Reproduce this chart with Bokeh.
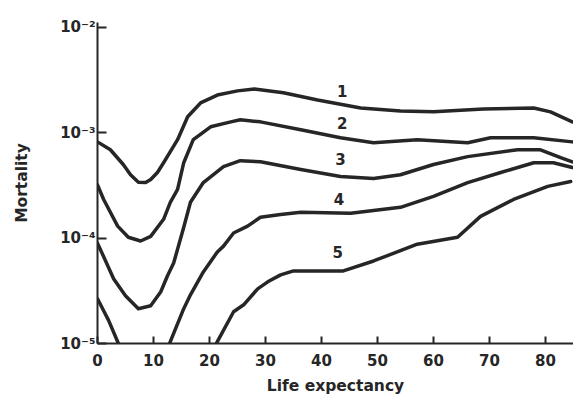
from bokeh.plotting import figure
from bokeh.models import Range1d, FixedTicker, CustomJSTickFormatter
from bokeh.core.properties import value
from bokeh.embed import file_html
from bokeh.resources import INLINE

# ---- data ----
x_ticks = [0, 10, 20, 30, 40, 50, 60, 70, 80]
y_ticks = [1e-5, 1e-4, 1e-3, 1e-2]
y_tick_labels = ["10⁻⁵", "10⁻⁴", "10⁻³", "10⁻²"]

curve1_x = [0, 2.3, 4.6, 5.9, 7.3, 8.6, 9.5, 10.7, 11.8, 14.3, 16.1, 18.4, 21.4, 25.0, 28.0, 33.2, 39.3, 47.0, 54.1, 60.0, 68.9, 77.9, 80.9, 84.8]
curve1_y = [8.2e-4, 6.9e-4, 5.0e-4, 4.0e-4, 3.4e-4, 3.37e-4, 3.6e-4, 4.2e-4, 5.2e-4, 8.6e-4, 1.42e-3, 1.92e-3, 2.28e-3, 2.5e-3, 2.6e-3, 2.4e-3, 2.05e-3, 1.72e-3, 1.61e-3, 1.58e-3, 1.68e-3, 1.72e-3, 1.58e-3, 1.27e-3]

curve2_x = [0, 1.1, 3.6, 5.5, 7.7, 9.5, 11.8, 13.0, 14.3, 15.4, 17.1, 20.2, 23.8, 25.5, 29.1, 36.3, 43.4, 49.3, 57.1, 66.1, 70.2, 77.9, 84.8]
curve2_y = [3.2e-4, 2.33e-4, 1.30e-4, 1.02e-4, 9.4e-5, 1.04e-4, 1.51e-4, 2.19e-4, 2.9e-4, 5.2e-4, 8.6e-4, 1.14e-3, 1.27e-3, 1.33e-3, 1.27e-3, 1.07e-3, 8.97e-4, 8.05e-4, 8.6e-4, 8.05e-4, 8.97e-4, 8.97e-4, 8.2e-4]

curve3_x = [0, 2.9, 5.0, 7.3, 9.5, 11.3, 12.5, 13.6, 15.4, 16.6, 18.9, 22.5, 25.5, 29.1, 36.3, 43.4, 49.3, 54.1, 60.0, 66.1, 75.0, 79.1, 82.7, 84.8]
curve3_y = [8.97e-5, 4.1e-5, 2.84e-5, 2.14e-5, 2.28e-5, 3.1e-5, 4.4e-5, 5.8e-5, 1.27e-4, 2.19e-4, 3.37e-4, 4.78e-4, 5.44e-4, 5.3e-4, 4.48e-4, 3.85e-4, 3.68e-4, 4.0e-4, 5.0e-4, 5.94e-4, 6.9e-4, 6.9e-4, 5.8e-4, 5.3e-4]

curve4a_x = [0, 2.0, 3.6, 4.3]
curve4a_y = [2.66e-5, 1.65e-5, 1.04e-5, 8.5e-6]
curve4b_x = [12.4, 13.0, 15.4, 16.6, 18.9, 21.4, 22.5, 24.3, 26.8, 29.1, 32.7, 36.3, 45.2, 54.1, 60.0, 66.1, 72.0, 77.9, 81.4, 84.8]
curve4b_y = [8.6e-6, 1.04e-5, 2.14e-5, 2.9e-5, 4.78e-5, 7.4e-5, 8.4e-5, 1.12e-4, 1.30e-4, 1.58e-4, 1.68e-4, 1.76e-4, 1.72e-4, 1.96e-4, 2.49e-4, 3.37e-4, 4.2e-4, 5.2e-4, 5.2e-4, 4.68e-4]

curve5_x = [20.5, 21.4, 24.3, 26.1, 28.6, 30.4, 32.7, 35.0, 39.3, 43.9, 49.3, 57.1, 64.3, 68.4, 74.3, 80.4, 84.5]
curve5_y = [8.6e-6, 1.04e-5, 2.0e-5, 2.33e-5, 3.3e-5, 3.85e-5, 4.48e-5, 4.89e-5, 4.89e-5, 4.89e-5, 6.07e-5, 8.77e-5, 1.02e-4, 1.61e-4, 2.33e-4, 3.1e-4, 3.45e-4]

label_text = ["1", "2", "3", "4", "5"]
label_x = [43.7, 43.7, 43.4, 43.1, 42.9]
label_y = [2.49e-3, 1.23e-3, 5.65e-4, 2.37e-4, 7.43e-5]

# ---- figure ----
FONT = "DejaVu Sans"
INK = "#262626"

p = figure(width=573, height=397, y_axis_type="log",
           x_range=Range1d(0, 85.0), y_range=Range1d(1e-5, 1.114e-2),
           output_backend="svg", toolbar_location=None,
           min_border_left=97, min_border_top=22, min_border_right=0, min_border_bottom=52)
p.outline_line_color = None
p.xgrid.visible = False
p.ygrid.visible = False
p.background_fill_color = "white"
p.border_fill_color = "white"

for xs, ys in [(curve1_x, curve1_y), (curve2_x, curve2_y), (curve3_x, curve3_y),
               (curve4a_x, curve4a_y), (curve4b_x, curve4b_y), (curve5_x, curve5_y)]:
    p.line(xs, ys, line_color=INK, line_width=3.5, line_join="round", line_cap="round")

p.text(x=label_x, y=label_y, text=label_text, text_font=value(FONT),
       text_font_size="15px", text_font_style="bold", text_color=INK,
       text_align="center", text_baseline="middle")

# x axis
xa = p.xaxis[0]
xa.ticker = FixedTicker(ticks=x_ticks)
xa.axis_label = "Life expectancy"
xa.axis_label_text_font = FONT
xa.axis_label_text_font_style = "bold"
xa.axis_label_text_font_size = "15.5px"
xa.axis_label_text_color = INK
xa.axis_label_standoff = 8
xa.major_label_text_font = FONT
xa.major_label_text_font_style = "bold"
xa.major_label_text_font_size = "15px"
xa.major_label_text_color = INK
xa.major_label_standoff = 10
xa.major_tick_in = 7
xa.major_tick_out = 0
xa.minor_tick_in = 0
xa.minor_tick_out = 0
xa.axis_line_width = 2
xa.axis_line_color = INK
xa.major_tick_line_width = 2
xa.major_tick_line_color = INK

# y axis
ya = p.yaxis[0]
ya.ticker = FixedTicker(ticks=y_ticks)
ya.formatter = CustomJSTickFormatter(args=dict(vals=y_ticks, labs=y_tick_labels), code="""
let best = 0, bd = Infinity;
for (let i = 0; i < vals.length; i++) {
  const d = Math.abs(Math.log10(tick) - Math.log10(vals[i]));
  if (d < bd) { bd = d; best = i; }
}
return labs[best];
""")
ya.axis_label = "Mortality"
ya.axis_label_text_font = FONT
ya.axis_label_text_font_style = "bold"
ya.axis_label_text_font_size = "15.5px"
ya.axis_label_text_color = INK
ya.axis_label_standoff = 26
ya.major_label_text_font = FONT
ya.major_label_text_font_style = "bold"
ya.major_label_text_font_size = "15px"
ya.major_label_text_color = INK
ya.major_label_standoff = 2
ya.major_tick_in = 9
ya.major_tick_out = 0
ya.minor_tick_in = 0
ya.minor_tick_out = 0
ya.axis_line_width = 2
ya.axis_line_color = INK
ya.major_tick_line_width = 2
ya.major_tick_line_color = INK

open("out.html", "w").write(file_html(p, INLINE))
